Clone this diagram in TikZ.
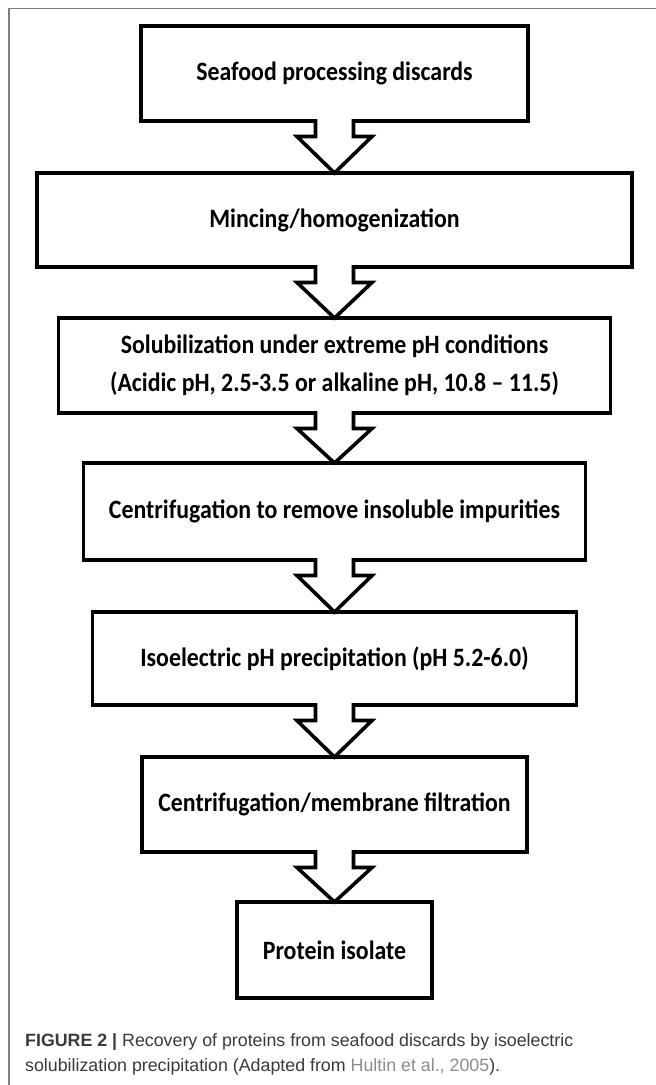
\documentclass[tikz,border=0pt]{standalone}
\usepackage{fontspec}
\setmainfont{Carlito}[FakeStretch=0.9]
\newfontfamily\capfont{Liberation Sans}
\usetikzlibrary{calc}
\definecolor{framegray}{HTML}{7F7F7F}
\definecolor{captext}{HTML}{3A3A3A}
\definecolor{linkgray}{HTML}{8C8C8C}
\tikzset{
  stepbox/.style={draw=black, line width=3.6pt, fill=white, rectangle, outer sep=0pt, inner sep=0pt,
    font={\fontsize{26.5}{38}\selectfont\bfseries}, align=center},
  arrowline/.style={draw=black, line width=3.6pt, line join=miter, fill=white},
}
\newcommand{\flowarrow}[2]{%
  \fill[white] ($(#1.south)+(-19,-1.8)$) rectangle ($(#1.south)+(19,1.8)$);
  \filldraw[arrowline] ($(#1.south)+(-19,-1.8)$) -- ($(#1.south)+(-19,15.5)$) -- ($(#1.south)+(-37.5,15.5)$)
     -- (#2.north) -- ($(#1.south)+(37.5,15.5)$) -- ($(#1.south)+(19,15.5)$) -- ($(#1.south)+(19,-1.8)$);
}
\begin{document}
\begin{tikzpicture}[x=1pt,y=-1pt]
\useasboundingbox (0,0) rectangle (656,1085);
\fill[white] (0,0) rectangle (656,1085);
\draw[framegray, line width=1.1pt] (9,1086) -- (9,8.5) -- (657,8.5);

\node[stepbox, minimum width=387pt, minimum height=95pt] (b1) at (334.5,73.5) {Seafood processing discards};
\node[stepbox, minimum width=595pt, minimum height=94pt] (b2) at (334.5,220) {Mincing/homogenization};
\node[stepbox, minimum width=552pt, minimum height=95pt] (b3) at (334.5,365.5) {Solubilization under extreme pH conditions\\(Acidic pH, 2.5-3.5 or alkaline pH, 10.8 -- 11.5)};
\node[stepbox, minimum width=502pt, minimum height=97pt] (b4) at (334.5,511.5) {Centrifugation to remove insoluble impurities};
\node[stepbox, minimum width=484pt, minimum height=93pt] (b5) at (334.5,658.5) {Isoelectric pH precipitation (pH 5.2-6.0)};
\node[stepbox, minimum width=385pt, minimum height=95pt] (b6) at (334.5,804.5) {Centrifugation/membrane filtration};
\node[stepbox, minimum width=195pt, minimum height=96pt] (b7) at (334.5,950) {Protein isolate};

\flowarrow{b1}{b2}
\flowarrow{b2}{b3}
\flowarrow{b3}{b4}
\flowarrow{b4}{b5}
\flowarrow{b5}{b6}
\flowarrow{b6}{b7}

\node[anchor=west, inner sep=0pt, align=left, text=captext,
  font={\capfont\fontsize{17.8}{25}\selectfont}] (cap) at (25,1054.5)
  {{\bfseries FIGURE 2 |} Recovery of proteins from seafood discards by isoelectric\\
   solubilization precipitation (Adapted from \textcolor{linkgray}{Hultin et al., 2005}).};
\end{tikzpicture}
\end{document}
